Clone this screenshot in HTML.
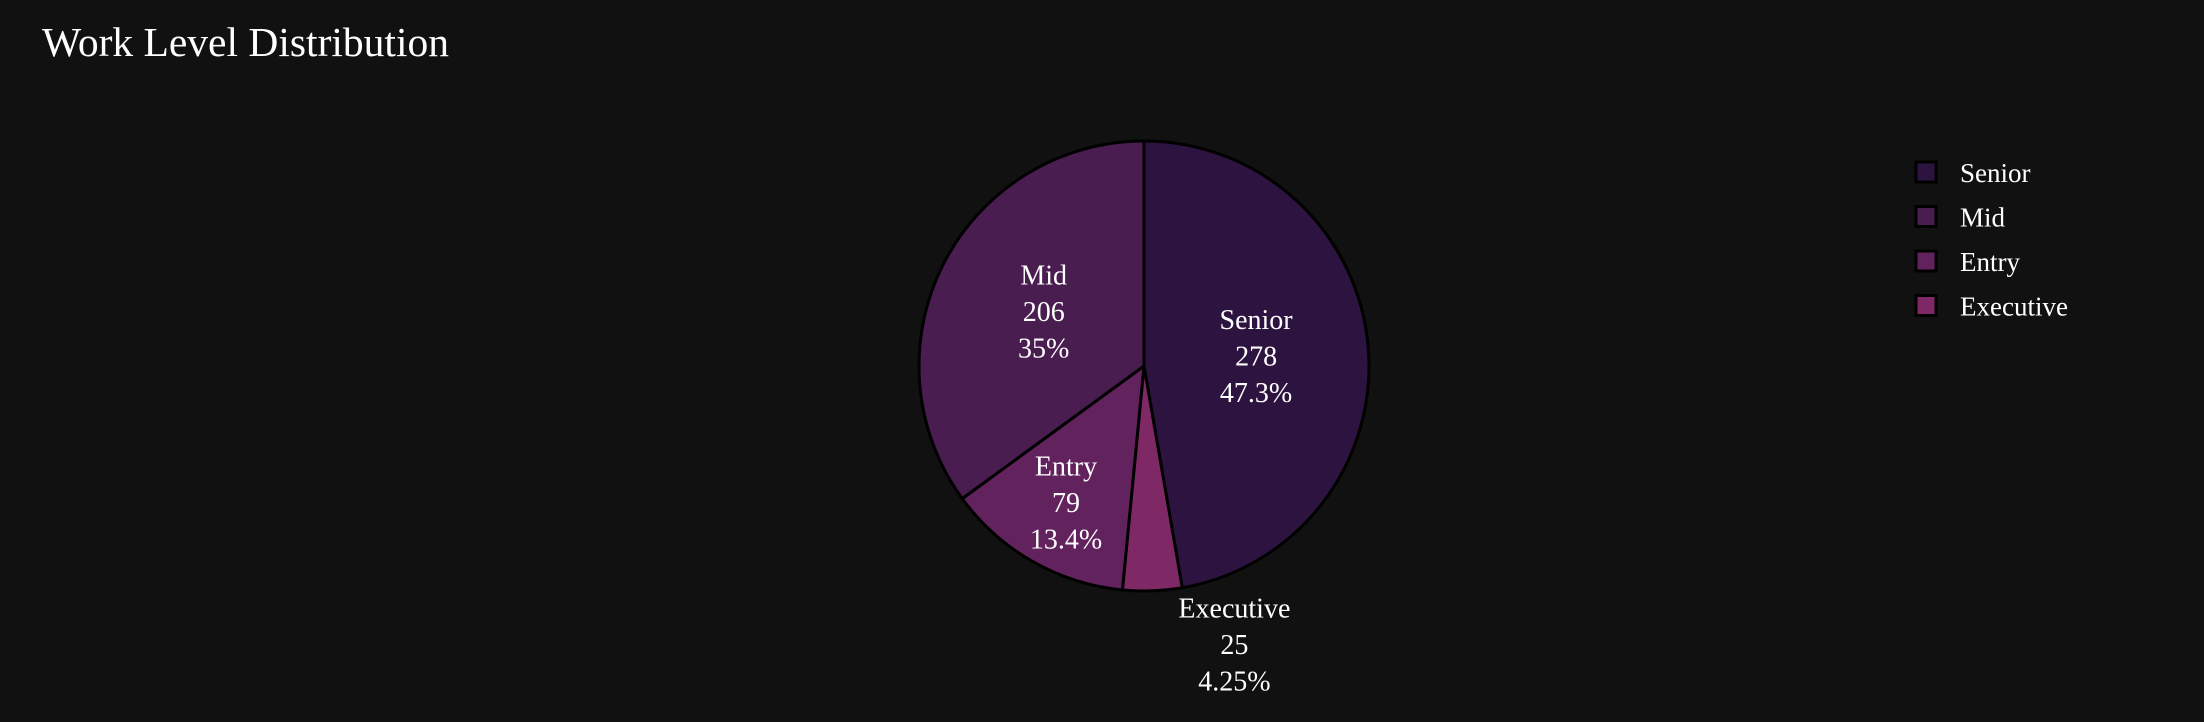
<!DOCTYPE html>
<html><head><meta charset="utf-8"><style>
html,body{margin:0;padding:0;background:#111111;}
svg{display:block;font-family:"Liberation Serif",serif;}
</style></head><body>
<svg id="chart" width="2204" height="722">
<rect width="2204" height="722" fill="#111111"/>
<text x="42" y="56" font-size="41.5" fill="#ffffff">Work Level Distribution</text>
<g id="slices"></g>
<g id="labels"></g>
<g id="legend"></g>
</svg>
<script>
const categories = ["Senior", "Mid", "Entry", "Executive"];
const values = [278, 206, 79, 25];
const colors = ["#2d1440", "#4a1d50", "#62225e", "#7e2866"];
const drawOrder = [0, 3, 2, 1];

const NS = "http://www.w3.org/2000/svg";
const cx = 1144, cy = 366, rx = 225, ry = 225;
const total = values.reduce((a, b) => a + b, 0);
const pt = (a, f) => [cx + rx * f * Math.sin(a), cy - ry * f * Math.cos(a)];
const slices = document.getElementById('slices');
const labels = document.getElementById('labels');
function fmtPct(p) {
  let s = (p * 100).toPrecision(3);
  s = String(parseFloat(s));
  return s + "%";
}
let ang = 0;
drawOrder.forEach(i => {
  const frac = values[i] / total;
  const a0 = ang, a1 = ang + frac * 2 * Math.PI;
  ang = a1;
  const p0 = pt(a0, 1), p1 = pt(a1, 1);
  const large = (a1 - a0) > Math.PI ? 1 : 0;
  const path = document.createElementNS(NS, 'path');
  path.setAttribute('d', `M${cx},${cy} L${p0[0]},${p0[1]} A${rx},${ry} 0 ${large} 1 ${p1[0]},${p1[1]} Z`);
  path.setAttribute('fill', colors[i]);
  path.setAttribute('stroke', '#000');
  path.setAttribute('stroke-width', '3');
  path.setAttribute('stroke-linejoin', 'round');
  
  
  slices.appendChild(path);
  const mid = (a0 + a1) / 2;
  let lx, ly;
  if (frac < 0.08) {
    const e = pt(mid, 1);
    lx = e[0] + 82; ly = e[1] + 54;
  } else if (frac < 0.2) {
    const c = pt(mid, 0.7);
    lx = c[0]; ly = c[1];
  } else {
    const c = pt(mid, 0.5);
    lx = c[0]; ly = c[1] + (mid > Math.PI ? -3 : 0);
  }
  const lines = [categories[i], String(values[i]), fmtPct(frac)];
  lines.forEach((t, k) => {
    const tx = document.createElementNS(NS, 'text');
    tx.setAttribute('x', lx);
    tx.setAttribute('y', ly + (k - 1) * 36.5 + 9);
    tx.setAttribute('text-anchor', 'middle');
    tx.setAttribute('font-size', '28');
    tx.setAttribute('fill', '#ffffff');
    tx.textContent = t;
    
    
    labels.appendChild(tx);
  });
});
const legend = document.getElementById('legend');
categories.forEach((c, i) => {
  const y = 172 + i * 44.5;
  const r = document.createElementNS(NS, 'rect');
  r.setAttribute('x', 1916); r.setAttribute('y', y - 10);
  r.setAttribute('width', 20); r.setAttribute('height', 20);
  r.setAttribute('fill', colors[i]); r.setAttribute('stroke', '#000'); r.setAttribute('stroke-width', '3');
  
  
  legend.appendChild(r);
  const t = document.createElementNS(NS, 'text');
  t.setAttribute('x', 1960); t.setAttribute('y', y + 10);
  t.setAttribute('font-size', '27'); t.setAttribute('fill', '#ffffff');
  t.textContent = c;
  
  
  legend.appendChild(t);
});
</script>
</body></html>
